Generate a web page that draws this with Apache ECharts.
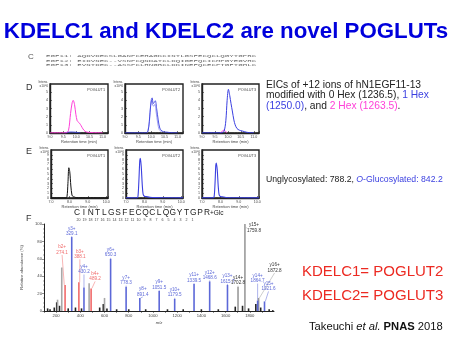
<!DOCTYPE html>
<html><head><meta charset="utf-8">
<script src="https://cdn.jsdelivr.net/npm/echarts@6/dist/echarts.min.js"></script>
<style>html,body{margin:0;padding:0;background:#fff}#c{width:450px;height:338px}</style>
</head><body><div id="c"></div>
<script>
// ---------------- DATA ----------------
const titleText = 'KDELC1 and KDELC2 are novel POGLUTs';
const enzymeNames = ['POGLUT1', 'POGLUT2', 'POGLUT3'];
const seqEGF11 = 'AQDVDECSLGANPCEHAGKCINTLGSFECQCLQGYTGPRC';
const seqEGF12 = 'EIDVNEC--VSNPCQNDATCLDQIGEFQCICMPGYEGVHC';
const seqEGF13 = 'EVNTDEC--ASSPCLHNGRCLDKINEFQCECPTGFTGHLC';
const peptideLetters = ['C','I','N','T','L','G','S','F','E','C','Q','C','L','Q','G','Y','T','G','P','R'];
const peptideNumbers = ['20','19','18','17','16','15','14','13','12','11','10','9','8','7','6','5','4','3','2','1'];

// Panel D: EICs (retention time min, intensity x10^6)
const dHex2_P1 = [[9.0,0.02],[9.6,0.02],[9.7,0.3],[9.78,2.4],[9.84,3.7],[9.88,4.0],[9.93,3.5],[9.98,2.3],[10.03,1.5],[10.07,1.35],[10.12,1.2],[10.18,0.9],[10.25,0.5],[10.33,0.2],[10.45,0.08],[10.65,0.04],[11.0,0.02]];
const dHex1_P1 = [[9.55,0.02],[9.65,0.08],[9.8,0.12],[9.95,0.1],[10.05,0.05],[10.15,0.02]];
const dHex1_P2 = [[9.0,0.02],[9.8,0.02],[9.88,0.3],[9.95,2.5],[10.0,4.1],[10.03,4.3],[10.07,3.6],[10.1,3.7],[10.15,3.95],[10.2,3.0],[10.26,1.6],[10.32,0.6],[10.4,0.25],[10.5,0.12],[10.6,0.1],[10.7,0.05],[11.0,0.02]];
const dHex1b_P2 = [[9.85,0.05],[9.92,1.2],[9.97,3.4],[10.01,4.0],[10.05,3.4],[10.09,3.3],[10.13,3.5],[10.18,2.6],[10.24,1.2],[10.3,0.4],[10.4,0.1]];
const dHex1_P3 = [[9.0,0.02],[9.75,0.02],[9.85,0.2],[9.92,1.5],[9.97,4.0],[10.02,5.35],[10.07,4.6],[10.12,3.6],[10.17,2.7],[10.23,1.6],[10.28,1.0],[10.35,0.55],[10.44,0.35],[10.55,0.25],[10.65,0.15],[10.8,0.05],[11.0,0.02]];
const dHex2_P3 = [[9.7,0.02],[9.78,0.2],[9.84,0.35],[9.9,0.25],[9.95,0.02]];

// Panel E: EICs (retention time min, intensity x10^6)
const eUngly_P1 = [[7.0,0.03],[7.8,0.03],[7.87,0.3],[7.92,3.0],[7.97,6.3],[8.02,5.5],[8.08,2.5],[8.14,0.6],[8.2,0.3],[8.28,0.2],[8.4,0.05],[10.1,0.03]];
const eGlc_P2 = [[7.0,0.03],[7.6,0.03],[7.65,0.3],[7.7,3.5],[7.75,7.8],[7.78,8.25],[7.83,6.5],[7.88,3.0],[7.93,0.8],[8.0,0.35],[8.1,0.3],[8.3,0.15],[8.6,0.08],[9.0,0.05],[10.1,0.03]];
const eGlc_P3 = [[7.0,0.03],[7.6,0.03],[7.66,0.3],[7.71,3.2],[7.75,6.8],[7.78,7.3],[7.83,5.8],[7.88,2.6],[7.93,0.7],[8.0,0.3],[8.1,0.25],[8.3,0.12],[8.6,0.06],[9.0,0.04],[10.1,0.03]];

// Panel F: MS/MS spectrum (m/z, relative abundance %)
const bNames = ['b2+','b3+','b4+'];
const bMz = [274.1, 388.1, 489.2];
const bAbund = [30, 33, 26];
const yNames = ['y3+','y4+','y6+','y7+','y8+','y9+','y10+','y11+','y12+','y13+','y14+','y15+'];
const yMz = [329.1, 430.2, 650.3, 778.3, 891.4, 1051.5, 1179.5, 1339.5, 1468.6, 1615.7, 1864.7, 1921.6];
const yAbund = [85, 27, 60, 28, 15, 23, 14, 31, 34, 30, 12, 11];
const kNames = ['y14+','y15+','y16+'];
const kMz = [1702.8, 1759.8, 1872.8];
const kAbund = [28, 100, 15];
const grayMz = [212, 246.6, 472.7, 600];
const grayAbund = [13, 50, 32, 15];
const noiseMz = [130,150,185,205,228,300,360,410,560,590,620,700,800,940,1120,1250,1400,1540,1680,1740,1790,1850,1890,1960,1990];
const noiseAbund = [3,2,4,10,6,3,4,3,4,8,3,2,2,2,2,2,2,2,5,6,3,8,4,2,1];

// ---------------- CHART ----------------
const chart = echarts.init(document.getElementById('c'), null, {renderer:'canvas'});
const SANS = 'Liberation Sans, Arial, Helvetica, sans-serif';
const BLUE = '#3a3fe0', PINK = '#ff3fd8', RED = '#ec2a22', SBLUE = '#5c68d8', SRED = '#f06a6a';

function txt(x, y, text, o) {
  o = o || {};
  return {type:'text', x:x, y:y, z:100, scaleX:o.scaleX || 1,
    style:{text:text, fontSize:o.size||8, fontFamily:o.family||SANS, fontWeight:o.weight||'normal',
      fontStyle:o.style||'normal', fill:o.color||'#222', align:o.align||'left', textAlign:o.align||'left',
      verticalAlign:o.va||'middle', textVerticalAlign:o.va||'middle', rich:o.rich, lineHeight:o.lh}};
}

const eicBoxes = [
  {left:50, top:84, width:58, height:49}, {left:125, top:84, width:58, height:49}, {left:202, top:84, width:57, height:49},
  {left:51, top:150, width:57, height:48}, {left:126, top:150, width:57, height:48}, {left:202, top:150, width:57, height:48}
];
const grids = eicBoxes.map(b => Object.assign({show:true, borderColor:'#222', borderWidth:1.4, backgroundColor:'#fff'}, b));
grids.push({left:44, top:224, width:230, height:87});

const xAxes = [], yAxes = [];
eicBoxes.forEach((b, i) => {
  const isD = i < 3;
  xAxes.push({gridIndex:i, type:'value', min: isD ? 9.0 : 7.0, max: isD ? 11.2 : 10.1, interval: isD ? 0.5 : 1,
    axisLine:{onZero:false, lineStyle:{color:'#222', width:1.4}},
    axisTick:{inside:true, length:2, lineStyle:{color:'#222', width:0.6}},
    minorTick:{show:true, splitNumber:5, length:1, lineStyle:{color:'#222', width:0.4}},
    splitLine:{show:false},
    axisLabel:{fontSize:3.6, color:'#444', margin:2, showMaxLabel:false, formatter:v => v.toFixed(1)},
    name:'Retention time (min)', nameLocation:'middle', nameGap:7, nameTextStyle:{fontSize:4, color:'#444'}});
  yAxes.push({gridIndex:i, type:'value', min:0, max: isD ? 6 : 10, interval:1,
    axisLine:{show:true, lineStyle:{color:'#222', width:1.4}},
    axisTick:{inside:true, length:2, lineStyle:{color:'#222', width:0.6}},
    splitLine:{show:false},
    axisLabel:{fontSize:3.6, color:'#444', margin:2, showMaxLabel:false}});
});
xAxes.push({gridIndex:6, type:'value', min:100, max:2000, interval:100,
  axisLine:{onZero:false, lineStyle:{color:'#222', width:1}},
  axisTick:{length:2, lineStyle:{color:'#222', width:0.5}},
  splitLine:{show:false},
  axisLabel:{fontSize:4.2, color:'#444', margin:3, showMaxLabel:false, formatter:v => (v % 200 === 0 ? String(v) : '')},
  name:'m/z', nameLocation:'middle', nameGap:10, nameTextStyle:{fontSize:4.2, color:'#444', fontStyle:'italic'}});
yAxes.push({gridIndex:6, type:'value', min:0, max:100, interval:20,
  axisLine:{show:true, lineStyle:{color:'#222', width:1}},
  axisTick:{length:2, lineStyle:{color:'#222', width:0.5}},
  minorTick:{show:true, splitNumber:4, length:1, lineStyle:{color:'#222', width:0.4}},
  splitLine:{show:false},
  axisLabel:{fontSize:4.2, color:'#444', margin:2},
  name:'Relative abundance (%)', nameLocation:'middle', nameGap:11, nameTextStyle:{fontSize:4.2, color:'#444'}});

function eicLine(idx, data, color, width, opacity) {
  return {type:'line', xAxisIndex:idx, yAxisIndex:idx, data:data, symbol:'none', smooth:0.3,
    lineStyle:{color:color, width:width||1, opacity:opacity==null?1:opacity}, z:5, silent:true, animation:false};
}

const series = [
  eicLine(0, dHex1_P1, BLUE, 0.9), eicLine(0, dHex2_P1, PINK, 1),
  eicLine(1, dHex1b_P2, '#8a8cf0', 1, 0.8), eicLine(1, dHex1_P2, BLUE, 0.9),
  eicLine(2, dHex2_P3, PINK, 1), eicLine(2, dHex1_P3, BLUE, 1),
  eicLine(3, eUngly_P1, '#111', 1),
  eicLine(4, eGlc_P2, BLUE, 1.1),
  eicLine(5, eGlc_P3, BLUE, 1.1)
];

function mk(names, mz, ab) { return mz.map((m, i) => ({name: names ? names[i] : '', value:[m, ab[i]]})); }
const ionLabel = p => p.name + '\n' + p.value[0].toFixed(1);
function barSeries(data, color, labelColor, lifts, showLabel) {
  return {type:'bar', xAxisIndex:6, yAxisIndex:6, data:data, barWidth:1.6, barGap:'-100%',
    itemStyle:{color:color}, animation:false, silent:true,
    label:{show:!!showLabel, position:'top', distance:1, fontSize:4.6, lineHeight:5.2, color:labelColor, fontFamily:SANS, formatter:ionLabel},
    labelLayout: lifts ? (p => { const l = lifts[p.dataIndex] || [0,0]; return {dx:l[0], dy:l[1]}; }) : undefined,
    labelLine:{show:true, length2:0, lineStyle:{color:color, width:0.5}}};
}
const bLifts = [[-3,-29],[1,-22],[4,-6]];
const yLifts = [[0,0],[0,-12],[0,0],[0,0],[3,0],[0,0],[0,0],[0,0],[0,0],[0,0],[0,-16],[4,-9]];
const kLifts = [[0,0],[9,10],[16,-24]];
series.push(barSeries(mk(null, noiseMz, noiseAbund), '#222', '#222', null, false));
series.push(barSeries(mk(null, grayMz, grayAbund), '#a8a8a8', '#222', null, false));
series.push(barSeries(mk(kNames, kMz, kAbund), '#9a9a9a', '#333', kLifts, true));
series.push(barSeries(mk(bNames, bMz, bAbund), SRED, SRED, bLifts, true));
series.push(barSeries(mk(yNames, yMz, yAbund), SBLUE, SBLUE, yLifts, true));

// ------------- text graphics -------------
const g = [];
g.push(txt(226, 31.5, titleText, {size:22.3, weight:'bold', color:'#0000dc', align:'center'}));
// panel letters
g.push(txt(28, 57, 'C', {size:8, color:'#555'}));
g.push(txt(26, 88, 'D', {size:9, color:'#333'}));
g.push(txt(26, 152, 'E', {size:9, color:'#333'}));
g.push(txt(26, 219, 'F', {size:9, color:'#333'}));
// sequence alignment
const MONO = 'Liberation Mono, DejaVu Sans Mono, monospace';
[['EGF11: ', seqEGF11], ['EGF12: ', seqEGF12], ['EGF13: ', seqEGF13]].forEach((r, i) => {
  g.push(txt(46, 56 + i * 4.7, r[0] + r[1], {size:4.1, family:MONO, color:'#666', scaleX:1.82}));
});
// EIC labels
eicBoxes.forEach((b, i) => {
  g.push(txt(b.left + b.width - 3, b.top + 6, enzymeNames[i % 3], {size:3.8, color:'#444', align:'right'}));
  g.push(txt(b.left - 2, b.top - 2, 'Intens.', {size:3.2, color:'#444', align:'right'}));
  g.push(txt(b.left - 2, b.top + 2, 'x10^6', {size:3.2, color:'#444', align:'right'}));
});
// peptide header
peptideLetters.forEach((c, i) => g.push(txt(77 + i * 6.84, 213, c, {size:8.4, color:'#222', align:'center'})));
g.push(txt(210, 213.5, '+Glc', {size:6.5, color:'#222'}));
peptideNumbers.forEach((c, i) => g.push(txt(78.5 + i * 6.0, 220, c, {size:3.6, color:'#444', align:'center'})));
// right-side text
const RS = 10.25, RL = 10.8;
g.push(txt(266, 95.5, '{k|EICs of +12 ions of hN1EGF11-13}\n{k|modified with 0 Hex (1236.5), }{b|1 Hex}\n{b|(1250.0)}{k|, and }{p|2 Hex (1263.5)}{k|.}',
  {size:RS, va:'middle', lh:RL, rich:{k:{fill:'#222', fontSize:RS, lineHeight:RL, fontFamily:SANS}, b:{fill:BLUE, fontSize:RS, lineHeight:RL, fontFamily:SANS}, p:{fill:PINK, fontSize:RS, lineHeight:RL, fontFamily:SANS}}}));
g.push({type:'text', x:266, y:180, z:100, style:{text:'{k|Unglycosylated: 788.2, }{i|O}{b|-Glucosylated: 842.2}', verticalAlign:'middle', textVerticalAlign:'middle',
  rich:{k:{fill:'#222', fontSize:8.7, fontFamily:SANS}, i:{fill:BLUE, fontSize:8.7, fontStyle:'italic', fontFamily:SANS}, b:{fill:BLUE, fontSize:8.7, fontFamily:SANS}}}});
g.push(txt(302, 272, 'KDELC1= POGLUT2', {size:15, color:RED}));
g.push(txt(302, 296, 'KDELC2= POGLUT3', {size:15, color:RED}));
g.push({type:'text', x:309, y:327, z:100, style:{text:'{k|Takeuchi }{i|et al.}{k| }{b|PNAS}{k| 2018}', verticalAlign:'middle', textVerticalAlign:'middle',
  rich:{k:{fill:'#111', fontSize:11.2, fontFamily:SANS}, i:{fill:'#111', fontSize:11.2, fontStyle:'italic', fontFamily:SANS}, b:{fill:'#111', fontSize:11.2, fontWeight:'bold', fontFamily:SANS}}}});

chart.setOption({
  animation:false,
  backgroundColor:'#fff',
  grid:grids, xAxis:xAxes, yAxis:yAxes, series:series,
  graphic:{elements:g}
});
</script></body></html>
